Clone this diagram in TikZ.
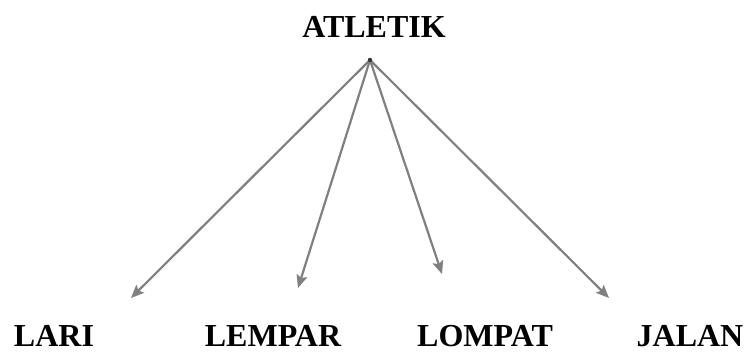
\documentclass[tikz,border=0pt]{standalone}
\usepackage{fontspec}
\setmainfont{Liberation Serif}
\usetikzlibrary{arrows.meta}
\begin{document}
\begin{tikzpicture}[x=1pt,y=1pt,
  lbl/.style={font=\fontsize{32}{38}\selectfont\bfseries, inner sep=0pt, anchor=base, text depth=0pt},
  conn/.style={draw=gray, line width=2.2pt, -{Stealth[length=13pt,width=11pt,inset=2.5pt]}}]
\useasboundingbox (0,0) rectangle (749,354);
\node[lbl] (atl) at (374,316) {ATLETIK};
\node[lbl] (lari) at (54,7.5) {LARI};
\node[lbl] (lempar) at (273,7.5) {LEMPAR};
\node[lbl] (lompat) at (485,7.5) {LOMPAT};
\node[lbl] (jalan) at (690,7.5) {JALAN};
\coordinate (hub) at (370,294);
\coordinate (e1) at (131,56);
\coordinate (e2) at (298,66);
\coordinate (e3) at (442,80);
\coordinate (e4) at (609,56);
\draw[conn] (hub) -- (e1);
\draw[conn] (hub) -- (e2);
\draw[conn] (hub) -- (e3);
\draw[conn] (hub) -- (e4);
\fill[black!80] (hub) circle (2.2pt);
\end{tikzpicture}
\end{document}
